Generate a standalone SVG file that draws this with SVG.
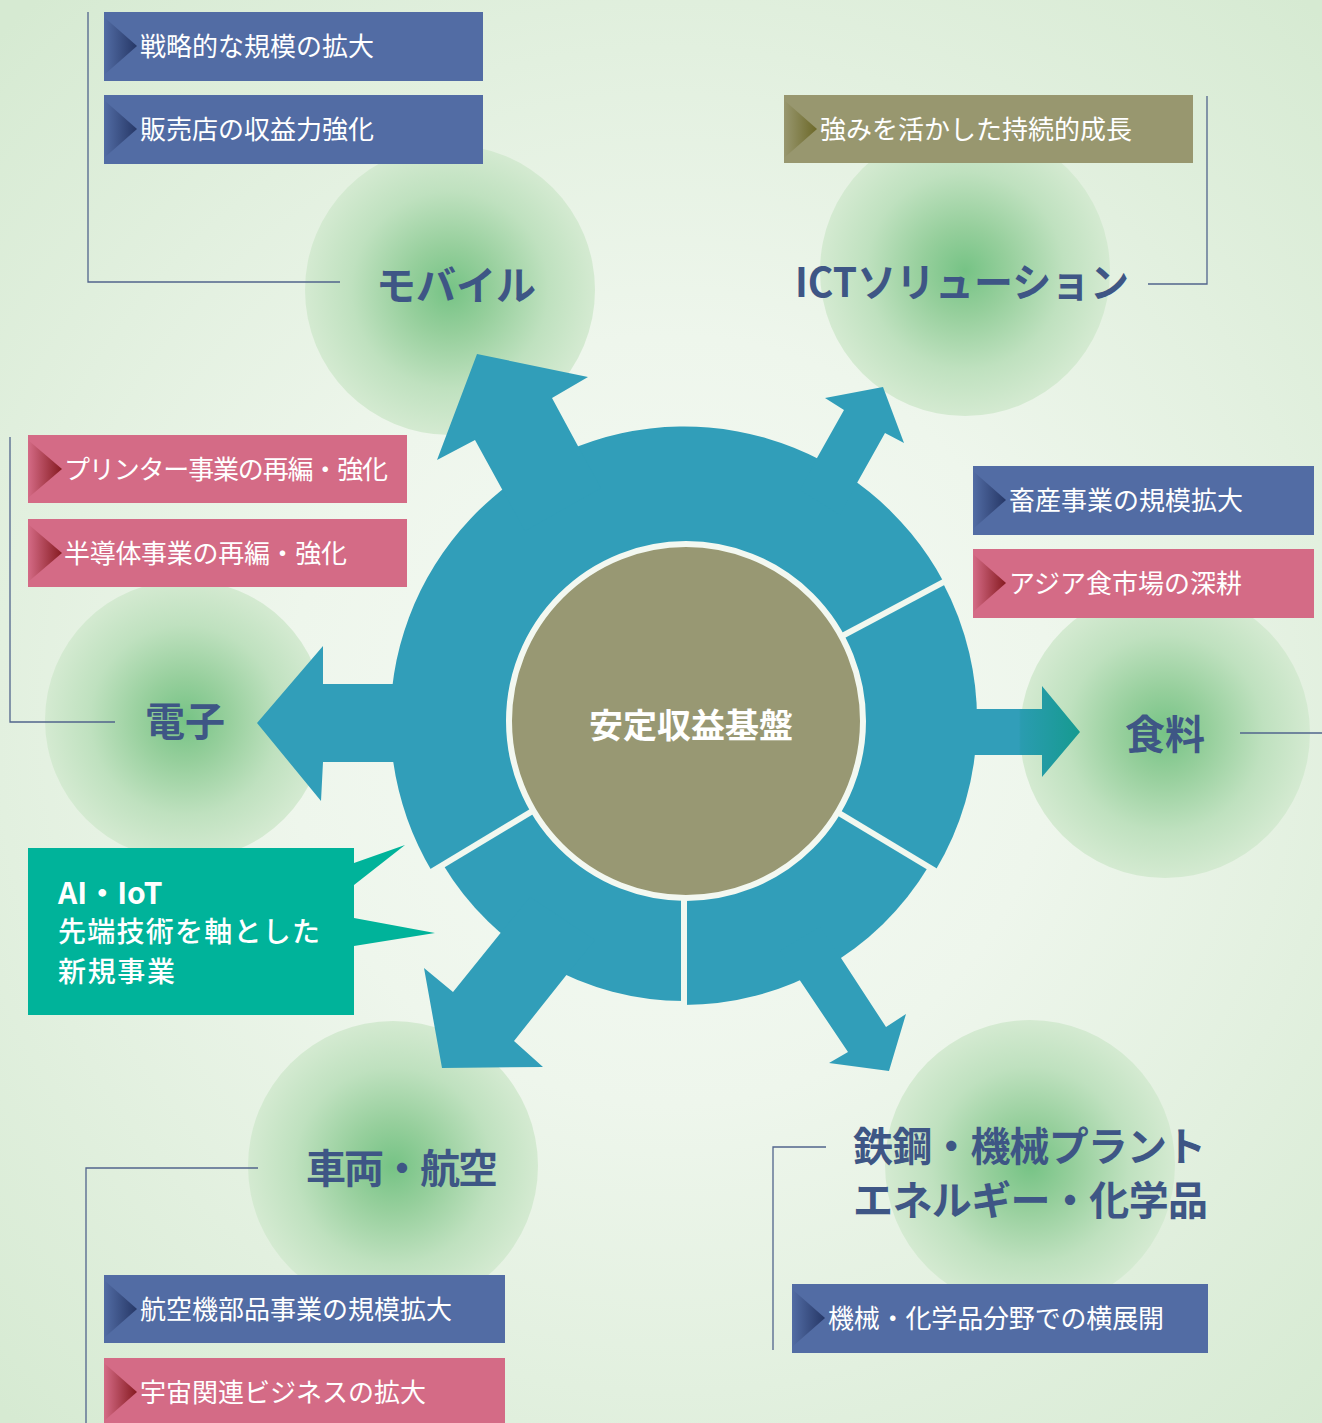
<svg xmlns="http://www.w3.org/2000/svg" width="1322" height="1423" viewBox="0 0 1322 1423">
<style>
.bt{font-family:"Noto Sans CJK JP","Noto Sans",sans-serif;font-size:26px;fill:#ffffff;}
.lb{font-family:"Noto Sans CJK JP","Noto Sans",sans-serif;font-size:40px;font-weight:700;fill:#3e5685;}
.ln{fill:none;stroke:#51648c;stroke-width:1.3;}
.teal{fill:#319eb9;}
.blue{fill:#526ca4;}
.pink{fill:#d46b86;}
.olive{fill:#98976f;}
.co{font-family:"Noto Sans CJK JP","Noto Sans",sans-serif;fill:#ffffff;}
</style>
<defs>
<radialGradient id="bg" cx="670" cy="720" r="960" gradientUnits="userSpaceOnUse">
<stop offset="0" stop-color="#f5faf4"/>
<stop offset="0.4" stop-color="#eef6ec"/>
<stop offset="1" stop-color="#d6eAd2"/>
</radialGradient>
<radialGradient id="glow">
<stop offset="0" stop-color="#76c385"/>
<stop offset="0.3" stop-color="#96cf9c"/>
<stop offset="0.68" stop-color="#bfe1bf"/>
<stop offset="1" stop-color="#d4eAd1"/>
</radialGradient>
<linearGradient id="triB" x1="0" y1="0" x2="1" y2="0">
<stop offset="0" stop-color="#526ca4"/>
<stop offset="1" stop-color="#263766"/>
</linearGradient>
<linearGradient id="triP" x1="0" y1="0" x2="1" y2="0">
<stop offset="0" stop-color="#d46b86"/>
<stop offset="1" stop-color="#861a20"/>
</linearGradient>
<linearGradient id="triO" x1="0" y1="0" x2="1" y2="0">
<stop offset="0" stop-color="#98976f"/>
<stop offset="1" stop-color="#6c6828"/>
</linearGradient>
<linearGradient id="rArrow" x1="1019" y1="0" x2="1080" y2="0" gradientUnits="userSpaceOnUse">
<stop offset="0" stop-color="#319eb9"/>
<stop offset="0.03" stop-color="#2a9cb0"/>
<stop offset="1" stop-color="#169a90"/>
</linearGradient>
<mask id="gaps" maskUnits="userSpaceOnUse" x="0" y="0" width="1322" height="1423">
<rect x="0" y="0" width="1322" height="1423" fill="#ffffff"/>
<g stroke="#000000" stroke-width="6">
<line x1="684" y1="720" x2="948.6" y2="579.3"/>
<line x1="684" y1="720" x2="941.2" y2="874.5"/>
<line x1="684" y1="720" x2="684" y2="1020"/>
<line x1="684" y1="720" x2="426.9" y2="874.5"/>
</g>
</mask>
</defs>

<rect x="0" y="0" width="1322" height="1423" fill="url(#bg)"/>

<g id="glows">
<circle cx="450" cy="290" r="145" fill="url(#glow)"/>
<circle cx="965" cy="271" r="145" fill="url(#glow)"/>
<circle cx="185" cy="720" r="140" fill="url(#glow)"/>
<circle cx="1165" cy="733" r="145" fill="url(#glow)"/>
<circle cx="393" cy="1166" r="145" fill="url(#glow)"/>
<circle cx="1030" cy="1165" r="145" fill="url(#glow)"/>
</g>

<g id="connectors">
<polyline class="ln" points="88,12 88,282 340,282"/>
<polyline class="ln" points="1148,284 1207,284 1207,96"/>
<polyline class="ln" points="10,437 10,722 115,722"/>
<line class="ln" x1="1240" y1="733" x2="1322" y2="733"/>
<polyline class="ln" points="258,1168 86,1168 86,1423"/>
<polyline class="ln" points="826,1147 773,1147 773,1350"/>
</g>

<g id="ring">
<g mask="url(#gaps)" class="teal">
<path d="M684,720 L432,871.4 A294,294 0 1 1 943.6,581.9 Z"/>
<path d="M684,720 L942.7,582.4 A293,293 0 0 1 935.2,870.9 Z"/>
<path d="M684,720 L928.3,866.8 A285,285 0 0 1 684,1005 Z"/>
<path d="M684,720 L684,1001 A281,281 0 0 1 443.1,864.7 Z"/>
<polygon points="525,531 503,491 475,440 437,460 477,354 588,377 552,398 579,448 601,488"/>
<polygon points="800,490 817,458 844,410 825,398 883,387 904,443 885,433 857,483 840,515"/>
<polygon points="420,684 323,684 323,646 257,723 321,801 323,762 420,762"/>
<polygon points="530,897 503,930 453,992 424,968 442,1068 543,1067 514,1041 568,973 595,940"/>
<polygon points="780,951 801,982 848,1052 829,1063 889,1071 906,1014 886,1027 841,958 820,927"/>
</g>
<polygon points="950,709 1042,709 1042,686 1080,732 1042,777 1042,755 950,755" fill="url(#rArrow)"/>
</g>

<g id="center">
<circle cx="686" cy="721" r="177" fill="#989873" stroke="#f3f8f1" stroke-width="6"/>
<text x="691" y="738" text-anchor="middle" font-family="'Noto Sans CJK JP','Noto Sans',sans-serif" font-size="34" font-weight="700" fill="#ffffff">安定収益基盤</text>
</g>

<g id="labels">
<text class="lb" x="456" y="300" text-anchor="middle">モバイル</text>
<text class="lb" x="795" y="297" textLength="334" lengthAdjust="spacingAndGlyphs">ICTソリューション</text>
<text class="lb" x="185" y="736" text-anchor="middle">電子</text>
<text class="lb" x="1165" y="749" text-anchor="middle">食料</text>
<text class="lb" x="306" y="1183" textLength="192" lengthAdjust="spacing">車両・航空</text>
<text class="lb" font-size="39"><tspan x="853" y="1161" textLength="353" lengthAdjust="spacing">鉄鋼・機械プラント</tspan><tspan x="853" y="1215" textLength="355" lengthAdjust="spacing">エネルギー・化学品</tspan></text>
</g>

<g id="box-mobile-1">
<rect class="blue" x="104" y="12" width="379" height="69"/>
<polygon points="104,17 137,46 104,75" fill="url(#triB)"/>
<text class="bt" x="140" y="56">戦略的な規模の拡大</text>
</g>
<g id="box-mobile-2">
<rect class="blue" x="104" y="95" width="379" height="69"/>
<polygon points="104,100 137,129 104,158" fill="url(#triB)"/>
<text class="bt" x="140" y="139">販売店の収益力強化</text>
</g>
<g id="box-ict-1">
<rect class="olive" x="784" y="95" width="409" height="68"/>
<polygon points="784,100 817,129 784,158" fill="url(#triO)"/>
<text class="bt" x="820" y="139">強みを活かした持続的成長</text>
</g>
<g id="box-elec-1">
<rect class="pink" x="28" y="435" width="379" height="68"/>
<polygon points="28,440 62,469 28,498" fill="url(#triP)"/>
<text class="bt" x="64" y="479" font-size="25" textLength="324" lengthAdjust="spacing">プリンター事業の再編・強化</text>
</g>
<g id="box-elec-2">
<rect class="pink" x="28" y="519" width="379" height="68"/>
<polygon points="28,524 62,553 28,582" fill="url(#triP)"/>
<text class="bt" x="64" y="563" font-size="25" textLength="283" lengthAdjust="spacing">半導体事業の再編・強化</text>
</g>
<g id="box-food-1">
<rect class="blue" x="973" y="466" width="341" height="69"/>
<polygon points="973,471 1006,500 973,529" fill="url(#triB)"/>
<text class="bt" x="1009" y="510">畜産事業の規模拡大</text>
</g>
<g id="box-food-2">
<rect class="pink" x="973" y="549" width="341" height="69"/>
<polygon points="973,554 1006,583 973,612" fill="url(#triP)"/>
<text class="bt" x="1009" y="593">アジア食市場の深耕</text>
</g>
<g id="box-aero-1">
<rect class="blue" x="104" y="1275" width="401" height="68"/>
<polygon points="104,1280 137,1309 104,1338" fill="url(#triB)"/>
<text class="bt" x="140" y="1319">航空機部品事業の規模拡大</text>
</g>
<g id="box-aero-2">
<rect class="pink" x="104" y="1358" width="401" height="68"/>
<polygon points="104,1363 137,1392 104,1421" fill="url(#triP)"/>
<text class="bt" x="140" y="1402">宇宙関連ビジネスの拡大</text>
</g>
<g id="box-steel-1">
<rect class="blue" x="792" y="1284" width="416" height="69"/>
<polygon points="792,1289 825,1318 792,1347" fill="url(#triB)"/>
<text class="bt" x="828" y="1328" textLength="336" lengthAdjust="spacing">機械・化学品分野での横展開</text>
</g>

<g id="callout-aiiot">
<polygon points="28,848 354,848 354,863 405,845 354,885 354,918 435,933 354,946 354,1015 28,1015" fill="#00b39a"/>
<text class="co" x="58" y="904" font-size="30" font-weight="700">AI・IoT</text>
<text class="co" x="58" y="942" font-size="28" font-weight="500" textLength="262" lengthAdjust="spacing">先端技術を軸とした</text>
<text class="co" x="58" y="982" font-size="28" font-weight="500" textLength="117" lengthAdjust="spacing">新規事業</text>
</g>
</svg>
